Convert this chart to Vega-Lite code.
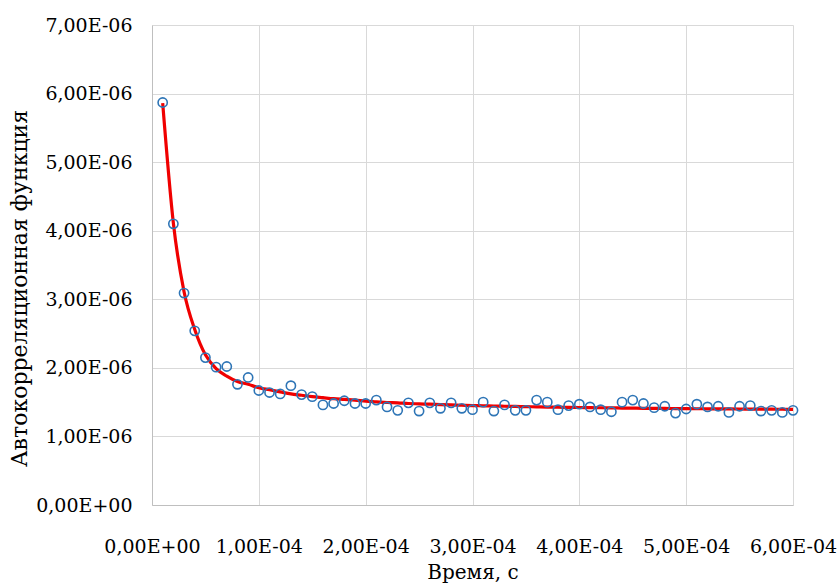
{
  "$schema": "https://vega.github.io/schema/vega-lite/v6.json",
  "width": 641,
  "height": 480,
  "autosize": {"type": "none"},
  "padding": {"left": 152, "top": 25, "right": 46, "bottom": 80},
  "background": "white",
  "config": {
    "view": {"stroke": null},
    "axis": {
      "labelFont": "DejaVu Serif",
      "titleFont": "DejaVu Serif",
      "labelFontSize": 19,
      "titleFontSize": 20,
      "labelColor": "#000000",
      "titleColor": "#000000",
      "titleFontWeight": "normal",
      "gridColor": "#D9D9D9",
      "gridWidth": 1,
      "domainColor": "#BFBFBF",
      "domainWidth": 1,
      "ticks": false
    }
  },
  "data": {
    "values": [
      {"t": 0.00001, "acf": 5.87e-6, "fit": 5.86e-6},
      {"t": 0.00002, "acf": 4.10e-6, "fit": 4.11e-6},
      {"t": 0.00003, "acf": 3.09e-6, "fit": 3.11e-6},
      {"t": 0.00004, "acf": 2.54e-6, "fit": 2.56e-6},
      {"t": 0.00005, "acf": 2.15e-6, "fit": 2.19e-6},
      {"t": 0.00006, "acf": 2.01e-6, "fit": 1.99e-6},
      {"t": 0.00007, "acf": 2.02e-6, "fit": 1.88e-6},
      {"t": 0.00008, "acf": 1.76e-6, "fit": 1.80e-6},
      {"t": 0.00009, "acf": 1.86e-6, "fit": 1.76e-6},
      {"t": 0.00010, "acf": 1.67e-6, "fit": 1.71e-6},
      {"t": 0.00011, "acf": 1.64e-6, "fit": 1.68e-6},
      {"t": 0.00012, "acf": 1.62e-6, "fit": 1.65e-6},
      {"t": 0.00013, "acf": 1.74e-6, "fit": 1.62e-6},
      {"t": 0.00014, "acf": 1.61e-6, "fit": 1.60e-6},
      {"t": 0.00015, "acf": 1.58e-6, "fit": 1.58e-6},
      {"t": 0.00016, "acf": 1.46e-6, "fit": 1.565e-6},
      {"t": 0.00017, "acf": 1.48e-6, "fit": 1.55e-6},
      {"t": 0.00018, "acf": 1.52e-6, "fit": 1.54e-6},
      {"t": 0.00019, "acf": 1.48e-6, "fit": 1.53e-6},
      {"t": 0.00020, "acf": 1.48e-6, "fit": 1.515e-6},
      {"t": 0.00021, "acf": 1.53e-6, "fit": 1.505e-6},
      {"t": 0.00022, "acf": 1.43e-6, "fit": 1.495e-6},
      {"t": 0.00023, "acf": 1.38e-6, "fit": 1.49e-6},
      {"t": 0.00024, "acf": 1.49e-6, "fit": 1.48e-6},
      {"t": 0.00025, "acf": 1.37e-6, "fit": 1.475e-6},
      {"t": 0.00026, "acf": 1.49e-6, "fit": 1.47e-6},
      {"t": 0.00027, "acf": 1.41e-6, "fit": 1.465e-6},
      {"t": 0.00028, "acf": 1.49e-6, "fit": 1.46e-6},
      {"t": 0.00029, "acf": 1.41e-6, "fit": 1.455e-6},
      {"t": 0.00030, "acf": 1.39e-6, "fit": 1.45e-6},
      {"t": 0.00031, "acf": 1.50e-6, "fit": 1.447e-6},
      {"t": 0.00032, "acf": 1.37e-6, "fit": 1.443e-6},
      {"t": 0.00033, "acf": 1.46e-6, "fit": 1.44e-6},
      {"t": 0.00034, "acf": 1.38e-6, "fit": 1.437e-6},
      {"t": 0.00035, "acf": 1.38e-6, "fit": 1.434e-6},
      {"t": 0.00036, "acf": 1.53e-6, "fit": 1.431e-6},
      {"t": 0.00037, "acf": 1.50e-6, "fit": 1.428e-6},
      {"t": 0.00038, "acf": 1.39e-6, "fit": 1.426e-6},
      {"t": 0.00039, "acf": 1.45e-6, "fit": 1.424e-6},
      {"t": 0.00040, "acf": 1.47e-6, "fit": 1.422e-6},
      {"t": 0.00041, "acf": 1.43e-6, "fit": 1.42e-6},
      {"t": 0.00042, "acf": 1.39e-6, "fit": 1.418e-6},
      {"t": 0.00043, "acf": 1.36e-6, "fit": 1.416e-6},
      {"t": 0.00044, "acf": 1.50e-6, "fit": 1.414e-6},
      {"t": 0.00045, "acf": 1.53e-6, "fit": 1.412e-6},
      {"t": 0.00046, "acf": 1.48e-6, "fit": 1.41e-6},
      {"t": 0.00047, "acf": 1.42e-6, "fit": 1.409e-6},
      {"t": 0.00048, "acf": 1.44e-6, "fit": 1.408e-6},
      {"t": 0.00049, "acf": 1.34e-6, "fit": 1.406e-6},
      {"t": 0.00050, "acf": 1.40e-6, "fit": 1.405e-6},
      {"t": 0.00051, "acf": 1.47e-6, "fit": 1.404e-6},
      {"t": 0.00052, "acf": 1.43e-6, "fit": 1.403e-6},
      {"t": 0.00053, "acf": 1.44e-6, "fit": 1.402e-6},
      {"t": 0.00054, "acf": 1.35e-6, "fit": 1.401e-6},
      {"t": 0.00055, "acf": 1.44e-6, "fit": 1.40e-6},
      {"t": 0.00056, "acf": 1.45e-6, "fit": 1.399e-6},
      {"t": 0.00057, "acf": 1.37e-6, "fit": 1.398e-6},
      {"t": 0.00058, "acf": 1.38e-6, "fit": 1.397e-6},
      {"t": 0.00059, "acf": 1.35e-6, "fit": 1.396e-6},
      {"t": 0.00060, "acf": 1.38e-6, "fit": 1.395e-6}
    ]
  },
  "encoding": {
    "x": {
      "field": "t",
      "type": "quantitative",
      "scale": {"domain": [0, 0.0006], "nice": false, "zero": true},
      "axis": {
        "title": "Время, с",
        "values": [0, 0.0001, 0.0002, 0.0003, 0.0004, 0.0005, 0.0006],
        "labelExpr": "datum.value == 0 ? '0,00E+00' : replace(format(datum.value * 10000, '.2f'), '.', ',') + 'E-04'",
        "labelPadding": 32,
        "titlePadding": 6,
        "labelFlush": false,
        "labelOverlap": false
      }
    },
    "y": {
      "field": "acf",
      "type": "quantitative",
      "scale": {"domain": [0, 7e-6], "nice": false},
      "axis": {
        "title": "Автокорреляционная функция",
        "titleFontSize": 22,
        "values": [0, 1e-6, 2e-6, 3e-6, 4e-6, 5e-6, 6e-6, 7e-6],
        "labelExpr": "datum.value == 0 ? '0,00E+00' : replace(format(datum.value * 1000000, '.2f'), '.', ',') + 'E-06'",
        "labelPadding": 20,
        "titleX": -121,
        "titleY": 263,
        "labelFlush": false,
        "labelOverlap": false
      }
    }
  },
  "layer": [
    {
      "mark": {"type": "line", "color": "#F00000", "strokeWidth": 3.2, "interpolate": "monotone"},
      "encoding": {"y": {"field": "fit", "type": "quantitative"}}
    },
    {
      "mark": {"type": "point", "shape": "circle", "filled": false, "color": "#2E75B6", "strokeWidth": 1.6, "size": 85, "opacity": 1}
    }
  ]
}
